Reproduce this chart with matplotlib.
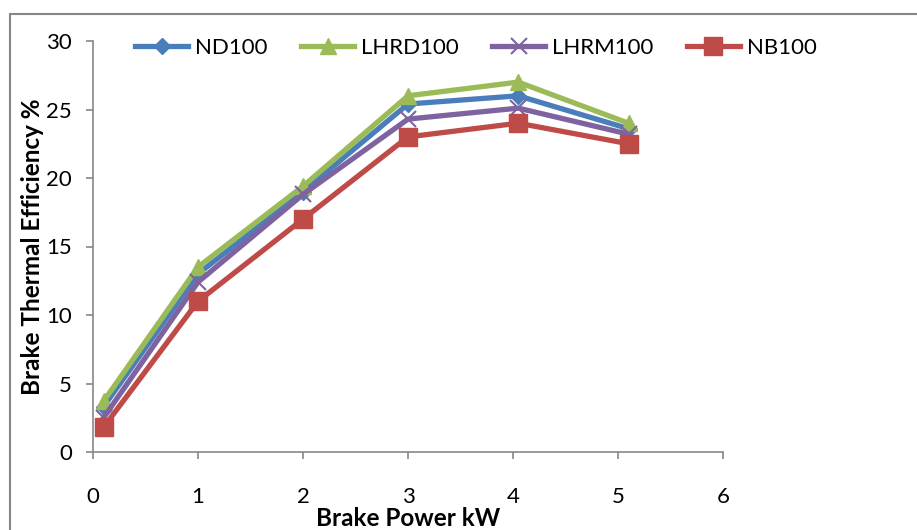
import matplotlib
matplotlib.use("Agg")
import matplotlib.pyplot as plt
from matplotlib.patches import Rectangle

plt.rcParams['font.family'] = ['Lato', 'DejaVu Sans']

# Data
brake_power = [0.1, 1.0, 2.0, 3.0, 4.05, 5.1]
series_names = ["ND100", "LHRD100", "LHRM100", "NB100"]
nd100 = [3.3, 13.0, 19.0, 25.4, 26.0, 23.6]
lhrd100 = [3.7, 13.5, 19.4, 26.0, 27.0, 24.0]
lhrm100 = [2.5, 12.4, 18.8, 24.3, 25.1, 23.2]
nb100 = [1.8, 11.0, 17.0, 23.0, 24.0, 22.5]
x_ticks = [0, 1, 2, 3, 4, 5, 6]
y_ticks = [0, 5, 10, 15, 20, 25, 30]

W, H = 917, 530
fig = plt.figure(figsize=(W / 100, H / 100), dpi=100)
ax = fig.add_axes([93 / W, (H - 452) / H, (723 - 93) / W, (452 - 41) / H])

# outer chart frame (cut off at right and bottom)
fig.patches.append(Rectangle((10 / W, -0.1), 2.0, (H - 14) / H + 0.1,
                             transform=fig.transFigure, fill=False,
                             edgecolor='#878787', linewidth=1.5))

styles = [
    dict(color='#4A7EBB', marker='D', markersize=8),
    dict(color='#9BBB59', marker='^', markersize=12),
    dict(color='#7F63A1', marker='x', markersize=11, markeredgewidth=1.5),
    dict(color='#BE4B48', marker='s', markersize=13),
]
for name, vals, st in zip(series_names, [nd100, lhrd100, lhrm100, nb100], styles):
    ax.plot(brake_power, vals, linewidth=3.8, label=name, clip_on=False, **st)

ax.set_xlim(0, 6)
ax.set_ylim(0, 30)
ax.set_xticks(x_ticks)
ax.set_yticks(y_ticks)
for s in ['top', 'right']:
    ax.spines[s].set_visible(False)
for s in ['left', 'bottom']:
    ax.spines[s].set_color('#878787')
    ax.spines[s].set_linewidth(1.2)
ax.tick_params(axis='both', colors='#878787', labelcolor='black', labelsize=16,
               length=5, width=1.2)
ax.tick_params(axis='x', pad=20)
ax.tick_params(axis='y', pad=10)

fig.text(33 / W, 1 - 247 / H, "Brake Thermal Efficiency %", rotation=90,
         ha='center', va='center', fontsize=17.5, fontweight='bold')
fig.text(408 / W, 1 - 518 / H, "Brake Power kW", ha='center', va='center',
         fontsize=17.5, fontweight='bold')

ax.legend(loc='upper left', bbox_to_anchor=(135 / W, 1 - 38 / H),
          bbox_transform=fig.transFigure, ncol=4, frameon=False, fontsize=16,
          handlelength=2.4, handletextpad=0.3, columnspacing=1.5,
          borderpad=0, borderaxespad=0)

fig.savefig("out.png", dpi=100)
